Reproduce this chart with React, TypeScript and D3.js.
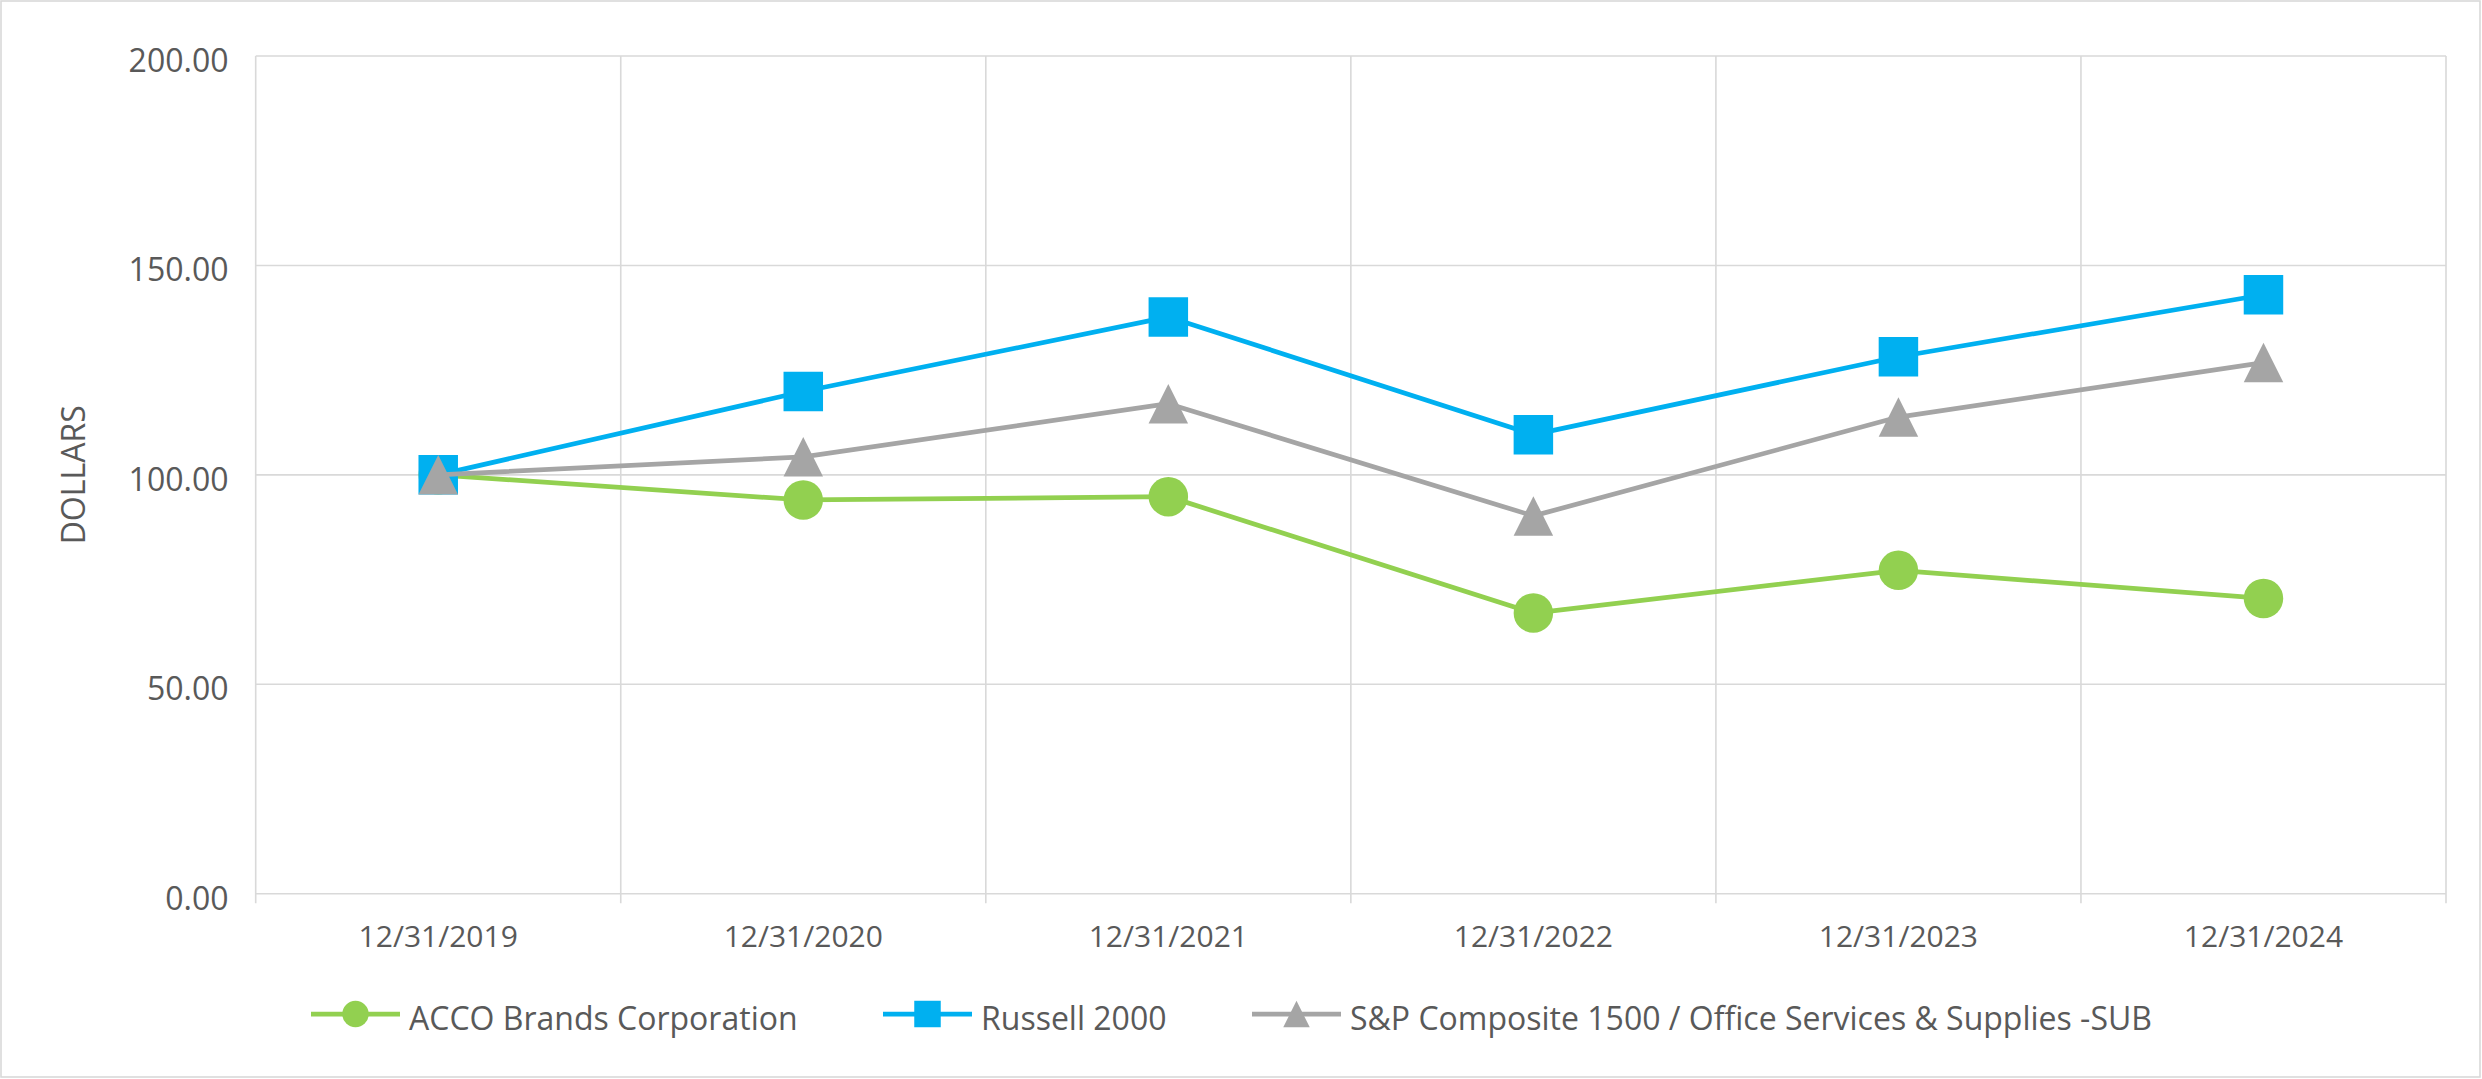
import { useEffect, useRef } from 'react';
import * as d3 from 'd3';

const categories = ['12/31/2019', '12/31/2020', '12/31/2021', '12/31/2022', '12/31/2023', '12/31/2024'];
const accoValues = [100, 94.0, 94.8, 67.0, 77.2, 70.5];
const russellValues = [100, 119.9, 137.7, 109.6, 128.2, 143.0];
const spValues = [100, 104.3, 117.0, 90.2, 113.8, 126.8];
const yTicks = [0, 50, 100, 150, 200];

const seriesNames = ['ACCO Brands Corporation', 'Russell 2000', 'S&P Composite 1500 / Office Services & Supplies -SUB'];

const W = 2482;
const H = 1079;
const textColor = '#595959';
const gridColor = '#d9d9d9';
const fontFamily = '"Open Sans", "Noto Sans", sans-serif';

type Marker = 'circle' | 'square' | 'triangle';

function markerPath(kind: Marker, size: number) {
  if (kind === 'triangle') {
    const h = size / 2;
    return `M0,${-h}L${h},${h}L${-h},${h}Z`;
  }
  const type = kind === 'circle' ? d3.symbolCircle : d3.symbolSquare;
  const area = kind === 'circle' ? Math.PI * (size / 2) ** 2 : size * size;
  return d3.symbol().type(type).size(area)()!;
}

export default function App() {
  const svgRef = useRef<SVGSVGElement>(null);

  useEffect(() => {
    document.body.style.margin = '0';
    document.body.style.overflow = 'hidden';
    if (!svgRef.current) return;

    const svg = d3.select(svgRef.current);
    svg.selectAll('*').remove();

    const margin = { left: 255.7, right: W - 2446, top: 56, bottom: H - 893.7 };

    const x = d3.scaleBand<string>()
      .domain(categories)
      .range([margin.left, W - margin.right])
      .padding(0);
    const y = d3.scaleLinear().domain([0, 200]).range([H - margin.bottom, margin.top]);
    const cx = (c: string) => x(c)! + x.bandwidth() / 2;

    // chart border
    svg.append('rect')
      .attr('x', 1).attr('y', 1).attr('width', W - 3).attr('height', H - 3)
      .attr('fill', '#fff').attr('stroke', gridColor).attr('stroke-width', 1.6);

    // horizontal gridlines
    svg.append('g')
      .selectAll('line')
      .data(yTicks)
      .join('line')
      .attr('x1', margin.left).attr('x2', W - margin.right)
      .attr('y1', (d) => y(d)).attr('y2', (d) => y(d))
      .attr('stroke', gridColor).attr('stroke-width', 1.6);

    // vertical gridlines at category boundaries, extending as ticks
    const bounds = [...categories.map((c) => x(c)!), W - margin.right];
    svg.append('g')
      .selectAll('line')
      .data(bounds)
      .join('line')
      .attr('x1', (d) => d).attr('x2', (d) => d)
      .attr('y1', margin.top).attr('y2', y(0) + 9.5)
      .attr('stroke', gridColor).attr('stroke-width', 1.6);

    // y tick labels
    svg.append('g')
      .selectAll('text')
      .data(yTicks)
      .join('text')
      .attr('x', 228.5)
      .attr('y', (d) => y(d) + 15.8)
      .attr('text-anchor', 'end')
      .attr('fill', textColor)
      .attr('font-size', 32)
      .attr('font-family', fontFamily)
      .text((d) => d.toFixed(2));

    // x tick labels
    svg.append('g')
      .selectAll('text')
      .data(categories)
      .join('text')
      .attr('x', (d) => cx(d))
      .attr('y', y(0) + 53)
      .attr('text-anchor', 'middle')
      .attr('fill', textColor)
      .attr('font-size', 30)
      .attr('font-family', fontFamily)
      .text((d) => d);

    // y axis title
    svg.append('text')
      .attr('transform', `translate(85,${(y(0) + y(200)) / 2}) rotate(-90)`)
      .attr('text-anchor', 'middle')
      .attr('fill', textColor)
      .attr('font-size', 32)
      .attr('font-family', fontFamily)
      .text('DOLLARS');

    const series = [
      { name: seriesNames[0], values: accoValues, color: '#92d050', marker: 'circle' as Marker },
      { name: seriesNames[1], values: russellValues, color: '#00b0f0', marker: 'square' as Marker },
      { name: seriesNames[2], values: spValues, color: '#a5a5a5', marker: 'triangle' as Marker },
    ];

    const line = d3.line<number>()
      .x((_, i) => cx(categories[i]))
      .y((d) => y(d));

    series.forEach((s) => {
      svg.append('path')
        .datum(s.values)
        .attr('d', line)
        .attr('fill', 'none')
        .attr('stroke', s.color)
        .attr('stroke-width', 4.75)
        .attr('stroke-linejoin', 'round');
      svg.append('g')
        .selectAll('path')
        .data(s.values)
        .join('path')
        .attr('transform', (d, i) => `translate(${cx(categories[i])},${y(d)})`)
        .attr('d', markerPath(s.marker, 39.5))
        .attr('fill', s.color);
    });

    // legend (item starts)
    const legendY = 1014;
    const lineLen = 89;
    const textGap = 9;
    const legendStarts = [311, 883, 1252];
    series.forEach((s, i) => {
      const g = svg.append('g').attr('transform', `translate(${legendStarts[i]},0)`);
      g.append('line')
        .attr('x1', 0).attr('x2', lineLen)
        .attr('y1', legendY).attr('y2', legendY)
        .attr('stroke', s.color).attr('stroke-width', 4.75);
      g.append('path')
        .attr('transform', `translate(${lineLen / 2},${legendY})`)
        .attr('d', markerPath(s.marker, 26.5))
        .attr('fill', s.color);
      g.append('text')
        .attr('x', lineLen + textGap)
        .attr('y', legendY + 15.5)
        .attr('fill', textColor)
        .attr('font-size', 32)
        .attr('font-family', fontFamily)
        .text(s.name);
    });
  }, []);

  return <svg ref={svgRef} width={W} height={H} style={{ display: 'block' }} />;
}
